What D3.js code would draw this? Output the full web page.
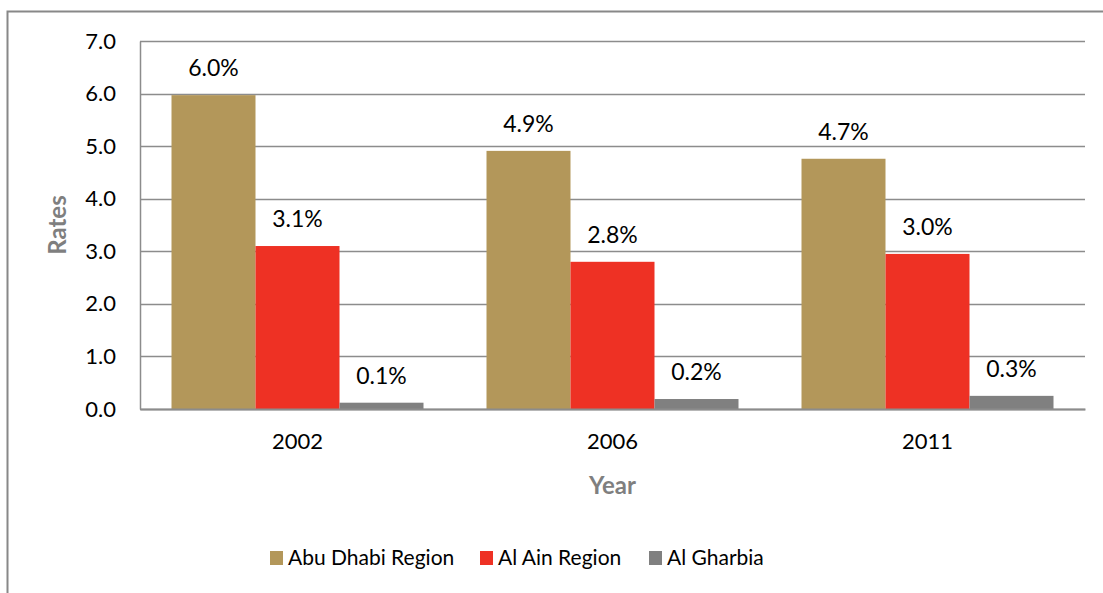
<!DOCTYPE html>
<html>
<head>
<meta charset="utf-8">
<script src="https://cdn.jsdelivr.net/npm/d3@7"></script>
<style>
  body { margin: 0; background: #fff; }
  svg text { font-family: Lato, "Open Sans", sans-serif; }
</style>
</head>
<body>
<div id="chart"></div>
<script>
// data
var years = ['2002', '2006', '2011'];
var regions = ['Abu Dhabi Region', 'Al Ain Region', 'Al Gharbia'];
var abuDhabi = [5.97, 4.91, 4.76];
var alAin = [3.10, 2.80, 2.95];
var alGharbia = [0.12, 0.19, 0.25];
var valueLabels = [
  ['6.0%', '4.9%', '4.7%'],
  ['3.1%', '2.8%', '3.0%'],
  ['0.1%', '0.2%', '0.3%']
];
var yTicks = [0, 1, 2, 3, 4, 5, 6, 7];
var colors = ['#B3975A', '#EE3124', '#808080'];

var W = 1103, H = 593;
var margin = {top: 41, right: 18, bottom: 184, left: 140},
    width = W - margin.left - margin.right,
    height = H - margin.top - margin.bottom;

var series = [abuDhabi, alAin, alGharbia];

var svg = d3.select('#chart').append('svg')
    .attr('width', W)
    .attr('height', H);

// outer chart frame
svg.append('rect')
    .attr('x', 7.5).attr('y', 11.5)
    .attr('width', W + 10).attr('height', H + 10)
    .attr('fill', 'none')
    .attr('stroke', '#888')
    .attr('stroke-width', 2);

var g = svg.append('g')
    .attr('transform', 'translate(' + margin.left + ',' + margin.top + ')');

var x0 = d3.scaleBand()
    .domain(years)
    .range([0, width])
    .paddingInner(0.2)
    .paddingOuter(0.1);

var x1 = d3.scaleBand()
    .domain(regions)
    .range([0, x0.bandwidth()]);

var y = d3.scaleLinear()
    .domain([0, 7])
    .range([height, 0]);

// gridlines
g.selectAll('.grid')
  .data(yTicks)
  .enter().append('line')
    .attr('class', 'grid')
    .attr('x1', 0).attr('x2', width)
    .attr('y1', d => Math.round(y(d)) + 0.5)
    .attr('y2', d => Math.round(y(d)) + 0.5)
    .attr('stroke', '#8c8c8c')
    .attr('stroke-width', 1.5);

// y axis
var yAxis = g.append('g')
    .call(d3.axisLeft(y).tickValues(yTicks).tickFormat(d3.format('.1f')).tickSize(0).tickPadding(24));
yAxis.select('.domain').attr('stroke', '#8c8c8c').attr('stroke-width', 1.5);
yAxis.selectAll('text').attr('font-size', 22).attr('fill', '#000');

// bars
var groups = g.selectAll('.yr')
  .data(years)
  .enter().append('g')
    .attr('class', 'yr')
    .attr('transform', d => 'translate(' + x0(d) + ',0)');

groups.selectAll('rect')
  .data((d, i) => regions.map((r, k) => ({region: r, value: series[k][i], label: valueLabels[k][i], k: k})))
  .enter().append('rect')
    .attr('x', d => x1(d.region))
    .attr('y', d => y(d.value))
    .attr('width', x1.bandwidth())
    .attr('height', d => height - y(d.value))
    .attr('fill', d => colors[d.k]);

groups.selectAll('.lbl')
  .data((d, i) => regions.map((r, k) => ({region: r, value: series[k][i], label: valueLabels[k][i], k: k})))
  .enter().append('text')
    .attr('class', 'lbl')
    .attr('x', d => x1(d.region) + x1.bandwidth() / 2)
    .attr('y', d => y(d.value) - 19)
    .attr('text-anchor', 'middle')
    .attr('font-size', 23)
    .attr('fill', '#000')
    .text(d => d.label);

// x axis
var xAxis = g.append('g')
    .attr('transform', 'translate(0,' + height + ')')
    .call(d3.axisBottom(x0).tickSize(0).tickPadding(24));
xAxis.select('.domain').attr('stroke', '#8c8c8c').attr('stroke-width', 2);
xAxis.selectAll('text').attr('font-size', 22).attr('fill', '#000');

// axis titles
svg.append('text')
    .attr('transform', 'translate(66,' + (margin.top + height / 2) + ') rotate(-90)')
    .attr('text-anchor', 'middle')
    .attr('font-size', 24)
    .attr('font-weight', 'bold')
    .attr('fill', '#7f7f7f')
    .text('Rates');

svg.append('text')
    .attr('x', margin.left + width / 2)
    .attr('y', 494)
    .attr('text-anchor', 'middle')
    .attr('font-size', 24)
    .attr('font-weight', 'bold')
    .attr('fill', '#7f7f7f')
    .text('Year');

// legend
var legendX = [270, 480, 649];
var legend = svg.selectAll('.leg')
  .data(regions)
  .enter().append('g')
    .attr('class', 'leg')
    .attr('transform', (d, i) => 'translate(' + legendX[i] + ',551)');

legend.append('rect')
    .attr('width', 13).attr('height', 14)
    .attr('fill', (d, i) => colors[i]);

legend.append('text')
    .attr('x', 18)
    .attr('y', 14)
    .attr('font-size', 21)
    .attr('fill', '#000')
    .text(d => d);
</script>
</body>
</html>
